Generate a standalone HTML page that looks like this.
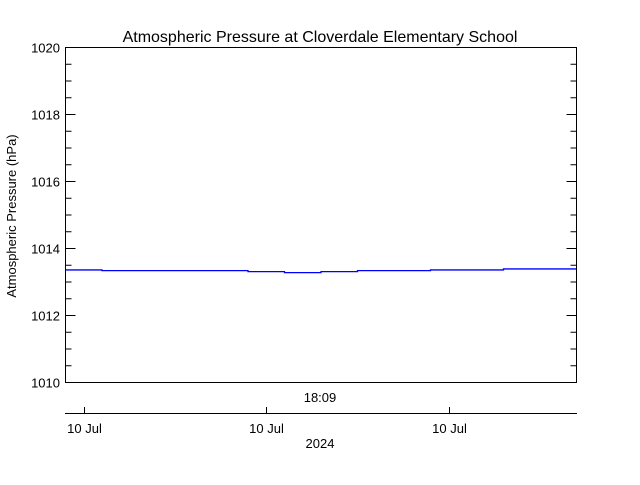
<!DOCTYPE html>
<html><head><meta charset="utf-8"><style>
body{margin:0;background:#fff;}
svg text{font-family:"Liberation Sans",sans-serif;fill:#000;}
</style></head><body>
<svg width="640" height="480" viewBox="0 0 640 480">
<rect width="640" height="480" fill="#fff"/>
<text x="320" y="42" font-size="16" text-anchor="middle">Atmospheric Pressure at Cloverdale Elementary School</text>
<text transform="translate(16,216) rotate(-90)" font-size="13" text-anchor="middle">Atmospheric Pressure (hPa)</text>
<g id="axes"></g>
<g id="series"></g>
<rect x="65.5" y="47.5" width="511" height="335" fill="none" stroke="#000"/>
<line x1="65" y1="413.5" x2="577" y2="413.5" stroke="#000"/>
<text x="320" y="402" font-size="13" text-anchor="middle">18:09</text>
<text x="320" y="448" font-size="13" text-anchor="middle">2024</text>
</svg>
<script>
const times = [-0.5,0.5,1.5,2.5,3.5,4.5,5.5,6.5,7.5,8.5,9.5,10.5,11.5,12.5,13.5];
const pressure = [1013.36,1013.34,1013.34,1013.34,1013.34,1013.31,1013.28,1013.31,1013.34,1013.34,1013.36,1013.36,1013.39,1013.39,1013.39];
const yTicks = [1010,1012,1014,1016,1018,1020];
const xTickTimes = [0,5,10];
const xTickLabels = ["10 Jul","10 Jul","10 Jul"];
const X0=-0.5,X1=13.5,Y0=1010,Y1=1020;
const xs=t=>65.5+(t-X0)/(X1-X0)*511;
const ys=v=>382.5-(v-Y0)/(Y1-Y0)*335;
const NS="http://www.w3.org/2000/svg";
const ax=document.getElementById('axes');
function mk(tag,attrs){const e=document.createElementNS(NS,tag);for(const k in attrs)e.setAttribute(k,attrs[k]);return e;}
for(let v=Y0;v<=Y1+1e-9;v+=0.5){
  const major=Math.abs(v-Math.round(v/2)*2)<1e-6;
  const L=major?10:6,y=ys(v);
  const a=mk('line',{x1:65.5,x2:65.5+L,y1:y,y2:y,stroke:'#000'});
  
  
  ax.appendChild(a);
  const b=mk('line',{x1:576.5,x2:576.5-L,y1:y,y2:y,stroke:'#000'});
  
  
  ax.appendChild(b);
}
yTicks.forEach(v=>{
  const t=mk('text',{x:60,y:ys(v)+5,'font-size':13,'text-anchor':'end'});
  t.textContent=v;
  
  
  ax.appendChild(t);
});
xTickTimes.forEach((tt,i)=>{
  const x=Math.round(xs(tt))+0.5;
  const l=mk('line',{x1:x,x2:x,y1:413,y2:407,stroke:'#000'});
  
  
  ax.appendChild(l);
  const t=mk('text',{x:x,y:433,'font-size':13,'text-anchor':'middle'});
  t.textContent=xTickLabels[i];
  
  
  ax.appendChild(t);
});
let d='';
for(let i=0;i<times.length;i++){
  const x=xs(times[i]),y=ys(pressure[i]);
  d+=(i===0?'M':'L')+x+','+y;
  const xn=i<times.length-1?xs(times[i+1]):xs(X1);
  d+='L'+xn+','+y;
}
const p=mk('path',{d:d,fill:'none',stroke:'#0000ff','stroke-width':1.3});


document.getElementById('series').appendChild(p);
</script>
</body></html>
